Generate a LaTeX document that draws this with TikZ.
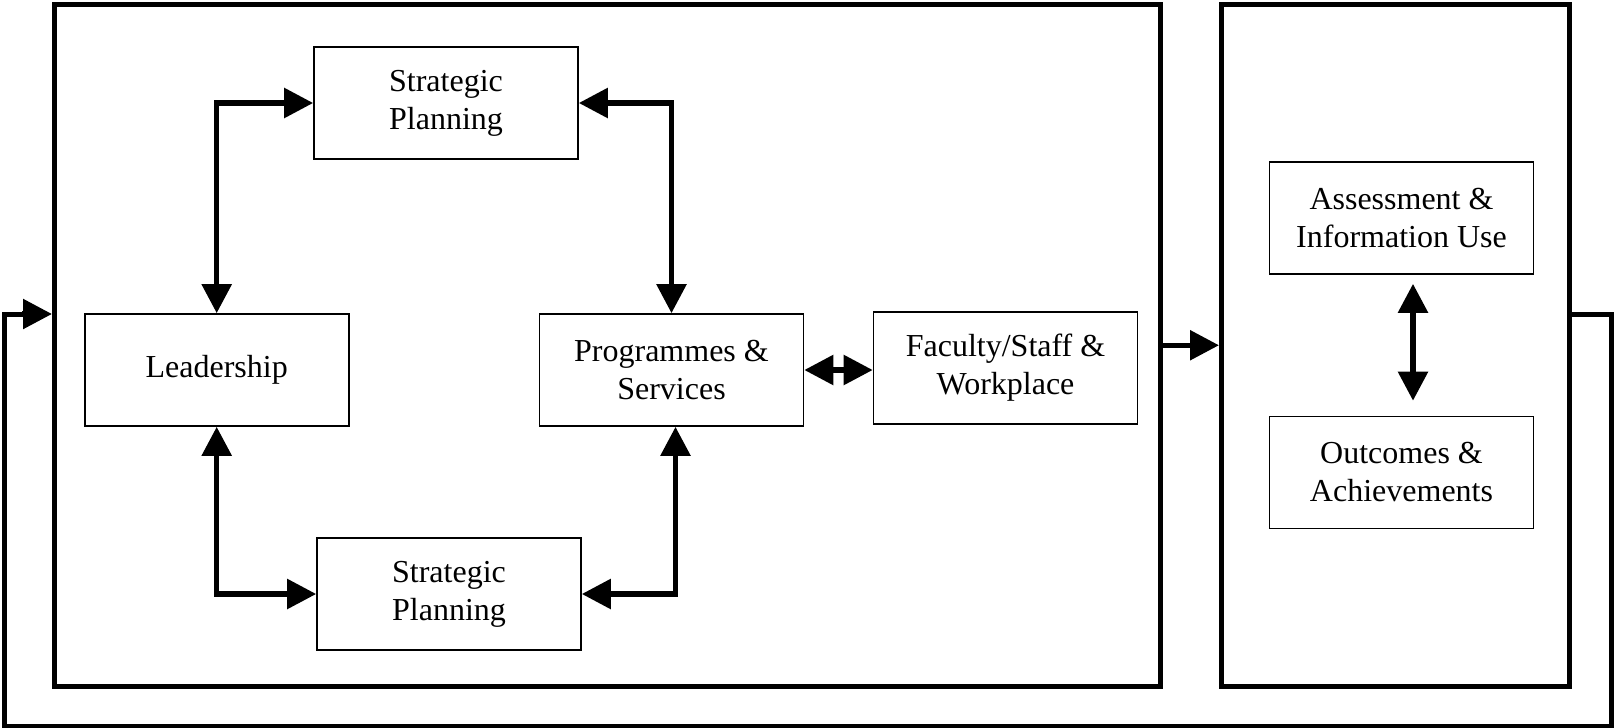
\documentclass[tikz,border=0pt]{standalone}
\usepackage{fontspec}
\setmainfont{Liberation Serif}
\usetikzlibrary{arrows.meta}
\begin{document}
\begin{tikzpicture}[x=1pt,y=-1pt,
  frame/.style={draw,line width=5pt,minimum height=681.5pt,inner sep=0pt},
  item/.style={draw,line width=1.6pt,minimum width=264pt,minimum height=112pt,
    align=center,font=\fontsize{32}{38}\selectfont},
  arr/.style={line width=5.5pt,-{Triangle[length=29pt,width=29pt]}},
  dbl/.style={line width=5.5pt,{Triangle[length=29pt,width=29pt]}-{Triangle[length=29pt,width=29pt]}},
  loop/.style={line width=5pt,line join=miter}]
\useasboundingbox (0,0) rectangle (1614,728);

% the two outer frames
\node[frame,minimum width=1105.5pt] (left) at (607.25,345.25) {};
\node[frame,minimum width=347.5pt] (right) at (1395.25,345.25) {};

% boxes of the left frame
\node[item] (sp1)  at (446,103)     {Strategic\\Planning};
\node[item] (lead) at (216.7,370)   {Leadership};
\node[item] (prog) at (671.5,370)   {Programmes \&\\Services};
\node[item] (fac)  at (1005.5,368)  {Faculty/Staff \&\\Workplace};
\node[item] (sp2)  at (449,594)     {Strategic\\Planning};

% boxes of the right frame
\node[item] (assess) at (1401.5,218)   {Assessment \&\\Information Use};
\node[item] (outc)   at (1401.5,472.5) {Outcomes \&\\Achievements};

% links inside the left frame
\draw[dbl] (lead.north) |- (sp1.west);
\draw[dbl] (sp1.east) -| (prog.north);
\draw[dbl] (lead.south) |- (sp2.west);
\draw[dbl] (sp2.east) -| ([xshift=4pt]prog.south);
\draw[dbl] (prog.east) -- (prog.east -| fac.west);

% link inside the right frame
\draw[dbl,shorten <=9pt,shorten >=15pt] ([xshift=11.5pt]assess.south) -- ([xshift=11.5pt]outc.north);

% left frame feeds the right frame
\draw[arr] (left.east) -- (right.west);

% feedback loop back to the left frame
\coordinate (fb) at (0,314);
\coordinate (c1) at (1611.5,314);
\coordinate (c2) at (1611.5,726);
\coordinate (c3) at (4.5,726);
\coordinate (c4) at (4.5,314);
\draw[loop] (right.east |- fb) -- (c1) -- (c2) -- (c3) -- (c4) -- ([xshift=-28pt]left.west |- fb);
\draw[arr] ([xshift=-30pt]left.west |- fb) -- (left.west |- fb);
\end{tikzpicture}
\end{document}
